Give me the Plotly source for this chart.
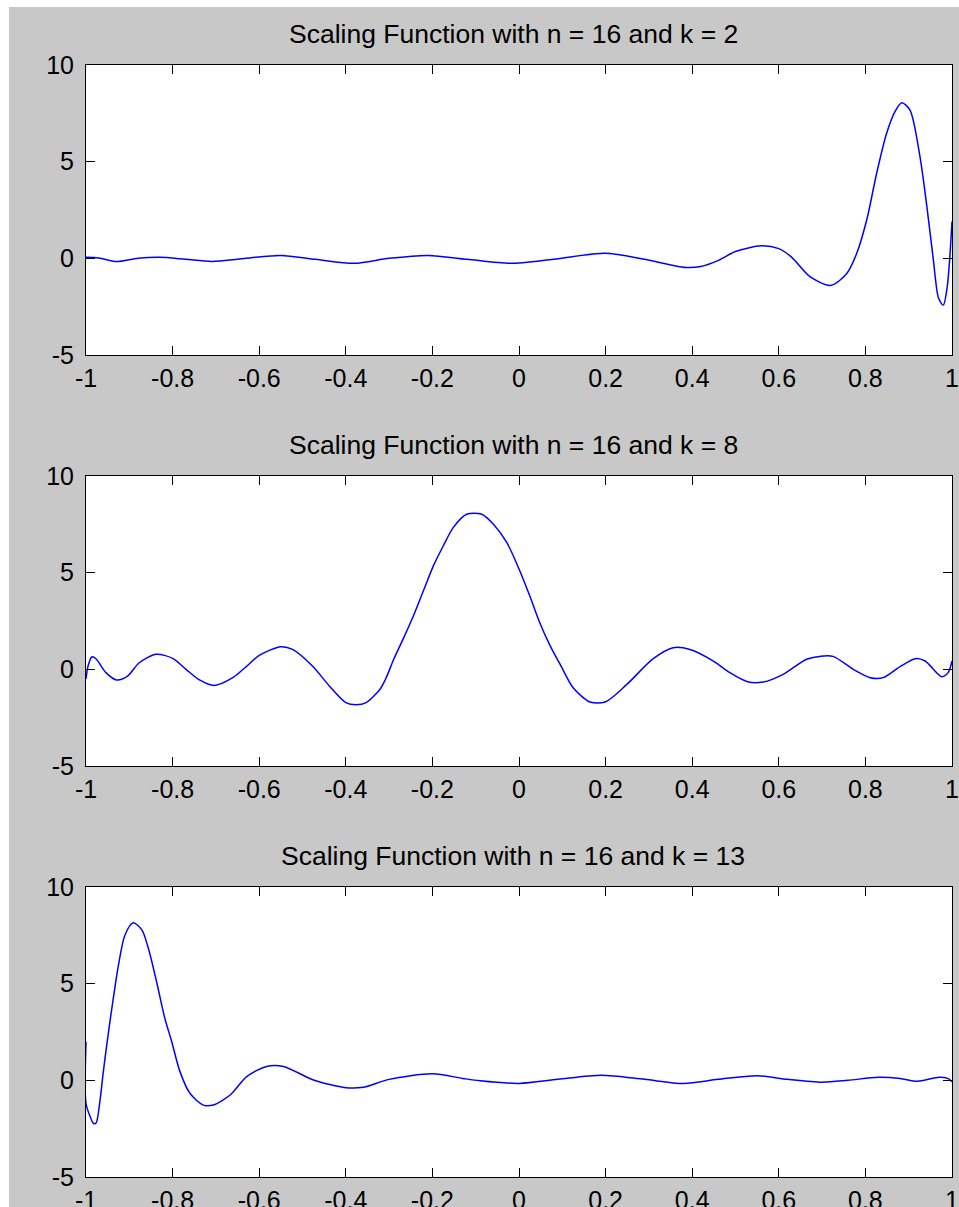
import plotly.graph_objects as go

# ---------------- data ----------------
x_k2 = [-1.0, -0.97, -0.93, -0.88, -0.83, -0.77, -0.71, -0.63, -0.55, -0.47,
        -0.38, -0.30, -0.21, -0.12, -0.02, 0.08, 0.20, 0.29, 0.385, 0.42,
        0.462, 0.50, 0.56, 0.60, 0.63, 0.672, 0.72, 0.757, 0.780, 0.803,
        0.826, 0.849, 0.868, 0.884, 0.903, 0.926, 0.942, 0.957, 0.969, 0.980,
        0.989, 0.995, 1.0]
y_k2 = [0.05, 0.02, -0.17, 0.0, 0.05, -0.05, -0.16, 0.0, 0.15, -0.05,
        -0.26, 0.0, 0.15, -0.05, -0.26, -0.05, 0.26, -0.05, -0.47, -0.42,
        -0.09, 0.35, 0.65, 0.5, 0.05, -0.95, -1.40, -0.78, 0.26, 1.98,
        4.40, 6.47, 7.58, 8.05, 7.67, 5.26, 2.67, -0.09, -2.07, -2.42,
        -1.47, 0.08, 1.9]

x_k8 = [-1.0, -0.995, -0.986, -0.977, -0.954, -0.929, -0.904, -0.877, -0.838, -0.800,
        -0.769, -0.738, -0.704, -0.661, -0.630, -0.600, -0.550, -0.523, -0.477, -0.438,
        -0.400, -0.376, -0.353, -0.321, -0.307, -0.290, -0.267, -0.244, -0.221, -0.198,
        -0.175, -0.152, -0.121, -0.086, -0.059, -0.028, 0.002, 0.025, 0.048, 0.072,
        0.099, 0.125, 0.164, 0.199, 0.249, 0.310, 0.356, 0.395, 0.449, 0.487,
        0.530, 0.564, 0.610, 0.664, 0.695, 0.725, 0.772, 0.811, 0.841, 0.880,
        0.915, 0.938, 0.976, 0.991, 1.0]
y_k8 = [-0.5, 0.2, 0.65, 0.55, -0.17, -0.55, -0.35, 0.34, 0.78, 0.57,
        0.0, -0.55, -0.83, -0.43, 0.14, 0.72, 1.17, 1.03, 0.17, -0.86,
        -1.72, -1.83, -1.72, -1.03, -0.45, 0.48, 1.6, 2.76, 4.05, 5.34,
        6.38, 7.33, 8.02, 8.02, 7.50, 6.55, 5.09, 3.79, 2.41, 1.21,
        0.09, -0.95, -1.69, -1.69, -0.78, 0.55, 1.12, 1.03, 0.43, -0.17,
        -0.66, -0.66, -0.26, 0.52, 0.67, 0.67, 0.0, -0.43, -0.43, 0.14,
        0.55, 0.43, -0.38, -0.17, 0.43]

x_k13 = [-1.0, -1.0, -0.99, -0.983, -0.977, -0.968, -0.960, -0.949, -0.937, -0.925,
         -0.910, -0.891, -0.871, -0.856, -0.837, -0.818, -0.802, -0.783, -0.760, -0.729,
         -0.706, -0.667, -0.629, -0.583, -0.544, -0.475, -0.40, -0.36, -0.30, -0.20,
         -0.13, -0.09, 0.0, 0.09, 0.19, 0.29, 0.38, 0.46, 0.55, 0.62,
         0.70, 0.76, 0.83, 0.88, 0.92, 0.97, 0.99, 1.0]
y_k13 = [2.0, -1.2, -1.9, -2.22, -2.22, -1.10, 0.45, 2.34, 4.24, 5.96,
         7.52, 8.15, 7.78, 6.83, 5.10, 3.21, 2.00, 0.45, -0.67, -1.28,
         -1.28, -0.76, 0.19, 0.72, 0.72, 0.02, -0.38, -0.36, 0.05, 0.34,
         0.1, -0.02, -0.16, 0.05, 0.26, 0.05, -0.16, 0.05, 0.24, 0.05,
         -0.1, 0.0, 0.16, 0.1, -0.05, 0.16, 0.1, -0.07]

titles = ["Scaling Function with n = 16 and k = 2",
          "Scaling Function with n = 16 and k = 8",
          "Scaling Function with n = 16 and k = 13"]

x_tick_vals = [-1, -0.8, -0.6, -0.4, -0.2, 0, 0.2, 0.4, 0.6, 0.8, 1]
x_tick_text = ["-1", "-0.8", "-0.6", "-0.4", "-0.2", "0", "0.2", "0.4", "0.6", "0.8", "1"]
y_tick_vals = [-5, 0, 5, 10]
y_tick_text = ["-5", "0", "5", "10"]

# ---------------- layout geometry (pixels) ----------------
W, H = 959, 1207
LEFT, RIGHT = 86, 952
PANELS = [(65, 355), (476, 766), (887, 1177)]
FONT = "Liberation Sans, Arial, Helvetica, sans-serif"
FS = 25
FS_TITLE = 26.5

fig = go.Figure()
series = [(x_k2, y_k2), (x_k8, y_k8), (x_k13, y_k13)]
layout = dict(
    template="none",
    width=W, height=H, autosize=False,
    margin=dict(l=0, r=0, t=0, b=0, pad=0),
    paper_bgcolor="#c8c8c8",
    plot_bgcolor="white",
    showlegend=False,
    font=dict(family=FONT, size=FS, color="black"),
    annotations=[], shapes=[],
)

for i, ((xs, ys), (top, bot)) in enumerate(zip(series, PANELS)):
    n = "" if i == 0 else str(i + 1)
    fig.add_trace(go.Scatter(x=xs, y=ys, mode="lines",
                             line=dict(color="#0000ff", width=1.5, shape="spline", smoothing=0.8),
                             xaxis="x" + n, yaxis="y" + n, hoverinfo="skip"))
    common = dict(showline=True, linecolor="black", linewidth=1, mirror="allticks",
                  ticks="inside", ticklen=9, tickwidth=1, tickcolor="black",
                  showgrid=False, zeroline=False, automargin=False,
                  tickfont=dict(family=FONT, size=FS, color="black"))
    layout["xaxis" + n] = dict(common, domain=[LEFT / W, RIGHT / W], range=[-1, 1],
                               tickvals=x_tick_vals, ticktext=x_tick_text,
                               anchor="y" + n, ticklabelstandoff=1)
    layout["yaxis" + n] = dict(common, domain=[1 - bot / H, 1 - top / H], range=[-5, 10],
                               tickvals=y_tick_vals, ticktext=y_tick_text,
                               anchor="x" + n, ticklabelstandoff=6)
    layout["annotations"].append(dict(
        text=titles[i], xref="paper", yref="paper",
        x=513 / W, y=1 - (top - 31) / H, xanchor="center", yanchor="middle",
        showarrow=False, font=dict(family=FONT, size=FS_TITLE, color="black")))

# white border strips on the left and top edges of the picture
layout["shapes"] = [
    dict(type="rect", xref="paper", yref="paper", x0=0, x1=9 / W, y0=0, y1=1,
         fillcolor="white", line=dict(width=0), layer="below"),
    dict(type="rect", xref="paper", yref="paper", x0=0, x1=1, y0=1 - 7 / H, y1=1,
         fillcolor="white", line=dict(width=0), layer="below"),
]

fig.update_layout(**layout)
fig.write_html("out.html", config={"displayModeBar": False},
               post_script="document.body.style.margin='0';document.body.style.overflow='hidden';")
